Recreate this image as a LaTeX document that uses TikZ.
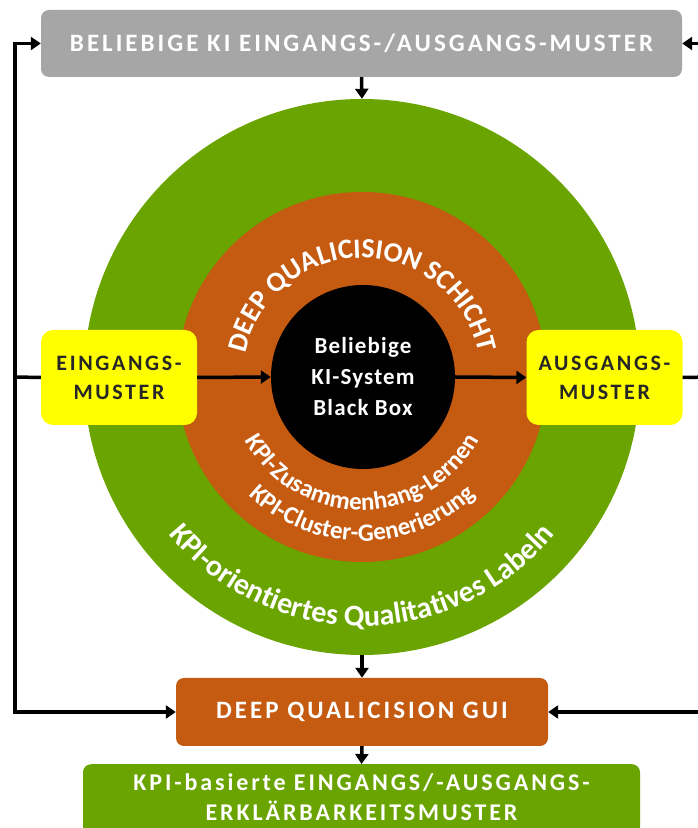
\documentclass[tikz,border=0pt]{standalone}
\usepackage{fontspec}
\setmainfont{Carlito}
\newfontfamily\wide[LetterSpace=12]{Carlito}
\newfontfamily\narrowwide[LetterSpace=5]{Carlito}
\usetikzlibrary{arrows.meta,decorations.text}
\definecolor{kgreen}{HTML}{6AA400}
\definecolor{korange}{HTML}{C55A11}
\definecolor{kgrey}{HTML}{A6A6A6}
\definecolor{kyellow}{HTML}{FFFF00}
\definecolor{kdark}{HTML}{262626}
\tikzset{
  panel/.style={rounded corners=8pt, inner sep=0pt, align=center, text=white,
    font=\wide\bfseries\fontsize{25}{30}\selectfont},
  patternbox/.style={rounded corners=12pt, fill=kyellow, minimum width=156pt,
    minimum height=95pt, align=center, text=kdark,
    font=\wide\bfseries\fontsize{22}{29}\selectfont},
  ring/.style={circle, inner sep=0pt},
  flow/.style={line width=3.5pt, -{Triangle[length=10pt,width=13pt]}},
  wire/.style={line width=3.5pt},
  arclabel/.style={decorate, decoration={text along path, text align=center,
    text color=white, text={|\bfseries\fontsize{#1}{#1}\selectfont|\arctext}}},
}
\newcommand\arctext{}
\newcommand\ringlabel[5]{% size, radius, start, end, text
  \renewcommand\arctext{#5}%
  \path[arclabel=#1] (362,451) ++(#3:#2) arc[start angle=#3, end angle=#4, radius=#2];}
\begin{document}
\begin{tikzpicture}[x=1pt,y=1pt]
\useasboundingbox (0,0) rectangle (697,828);

% frame box on top
\node[panel, fill=kgrey, minimum width=641pt, minimum height=67pt] (topbox) at (361.5,784.5)
  {BELIEBIGE KI EINGANGS-/AUSGANGS-MUSTER};

% concentric layers
\node[ring, fill=kgreen, minimum size=556pt] (outer) at (362,451) {};
\node[ring, fill=korange, minimum size=370pt] (mid) at (362,451) {};
\node[ring, fill=black, minimum size=184pt, align=center, text=white,
  font=\narrowwide\bfseries\fontsize{23}{31}\selectfont] (core) at (363,451)
  {Beliebige\\KI-System\\Black Box};

% curved labels
\ringlabel{28}{119}{172}{8}{DEEP QUALICISION SCHICHT}
\ringlabel{25}{133}{195}{345}{KPI-Zusammenhang-Lernen}
\ringlabel{25}{164}{200}{340}{KPI-Cluster-Generierung}
\ringlabel{30}{249}{200}{340}{KPI-orientiertes Qualitatives Labeln}

% input / output patterns
\node[patternbox] (inbox) at (119,450.5) {EINGANGS-\\MUSTER};
\node[patternbox] (outbox) at (604.5,450.5) {AUSGANGS-\\MUSTER};

% GUI and result
\node[panel, fill=korange, minimum width=372pt, minimum height=68pt] (gui) at (362,116)
  {DEEP QUALICISION GUI};
\node[panel, fill=kgreen, minimum width=557pt, minimum height=80pt, anchor=north] (result) at (361.5,64) {};
\node[text=white, font=\wide\bfseries\fontsize{24}{30}\selectfont, align=center] (resulttext) at (361.5,31)
  {KPI-basierte EINGANGS/-AUSGANGS-\\ERKLÄRBARKEITSMUSTER};

% connectors
\draw[flow] (topbox.south) -- (outer.north);
\draw[flow] (outer.south) -- (gui.north);
\draw[flow] (gui.south) -- (result.north);
\draw[flow] (inbox.east) -- (core.west);
\draw[flow] (core.east) -- (outbox.west);

\coordinate (lmid) at (15,451);
\coordinate (rmid) at (712,451);
\draw[wire] (inbox.west) -- (lmid);
\draw[flow] (lmid) |- (topbox.west);
\draw[flow] (lmid) |- (gui.west);
\draw[wire] (outbox.east) -- (rmid);
\draw[flow] (rmid) |- (topbox.east);
\draw[flow] (rmid) |- (gui.east);
\end{tikzpicture}
\end{document}
